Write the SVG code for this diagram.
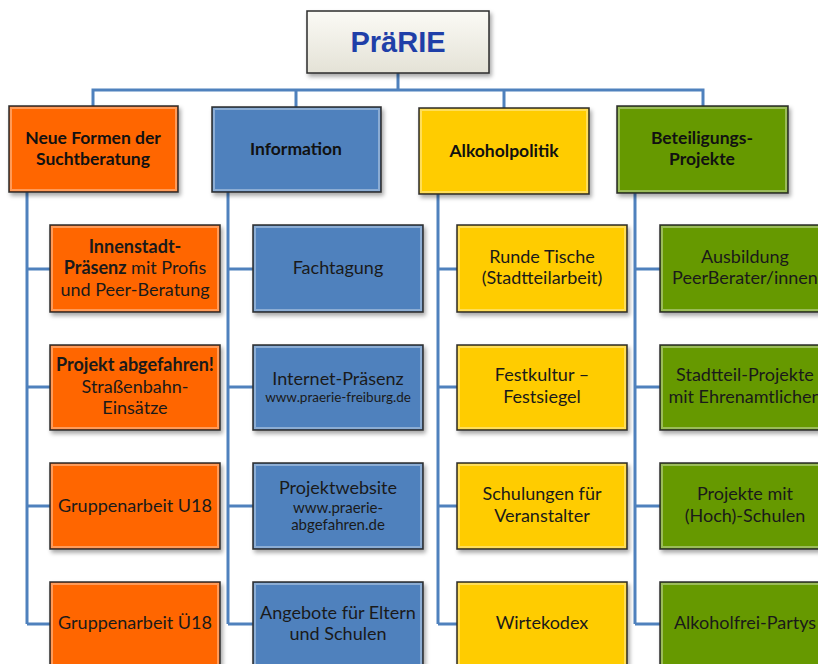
<svg xmlns="http://www.w3.org/2000/svg" width="818" height="664" viewBox="0 0 818 664">
<defs>
<filter id="sh" x="-10%" y="-10%" width="130%" height="140%">
<feDropShadow dx="2" dy="3" stdDeviation="2" flood-color="#000" flood-opacity="0.35"/>
</filter>
<linearGradient id="tg" x1="0" y1="0" x2="0" y2="1">
<stop offset="0" stop-color="#fbfaf5"/>
<stop offset="1" stop-color="#e4e2d6"/>
</linearGradient>
<style>
.box{stroke:#2b2b2b;stroke-width:1.5;filter:url(#sh)}
.o{fill:#ff6600}.b{fill:#4f81bd}.y{fill:#ffcc00}.g{fill:#669900}
.bev{fill:none;stroke:#ffffff;stroke-opacity:0.35;stroke-width:2}
.t{font-family:Lato,"Open Sans",sans-serif;font-size:18px;fill:#1a1a1a;text-anchor:middle}
.h{font-family:Lato,"Open Sans",sans-serif;font-size:17.5px;font-weight:bold;fill:#111;text-anchor:middle}
.s{font-family:Lato,"Open Sans",sans-serif;font-size:13.5px;fill:#1a1a1a;text-anchor:middle}
.s2{font-family:Lato,"Open Sans",sans-serif;font-size:15px;fill:#1a1a1a;text-anchor:middle}
.bold{font-weight:bold}
.c{fill:none;stroke:#4f81bd;stroke-width:3}
</style>
</defs>
<rect width="818" height="664" fill="#ffffff"/>

<g id="connectors">
<path class="c" d="M398 73V90M93 106V90H703V106M296 90V107M504 90V108"/>
<path class="c" d="M27 192V624M27 269H50M27 387H50M27 506H50M27 624H50"/>
<path class="c" d="M228 192V624M228 269H253M228 387H253M228 506H253M228 624H253"/>
<path class="c" d="M438 194V624M438 269H457M438 387H457M438 506H457M438 624H457"/>
<path class="c" d="M635 193V624M635 269H660M635 387H660M635 506H660M635 624H660"/>
</g>

<g id="praerie">
<rect class="box" x="307" y="11" width="182" height="62" fill="url(#tg)"/>
<text x="398" y="52" font-family="Liberation Sans,Arial,sans-serif" font-size="29" font-weight="bold" fill="#1f3fa8" text-anchor="middle">PräRIE</text>
</g>

<g id="neue-formen">
<rect class="box o" x="9" y="106" width="169" height="86"/>
<rect class="bev" x="11" y="108" width="165" height="82"/>
<text class="h" x="93" y="144">Neue Formen der</text>
<text class="h" x="93" y="165">Suchtberatung</text>
</g>
<g id="information">
<rect class="box b" x="212" y="107" width="169" height="85"/>
<rect class="bev" x="214" y="109" width="165" height="81"/>
<text class="h" x="296" y="155">Information</text>
</g>
<g id="alkoholpolitik">
<rect class="box y" x="419" y="108" width="170" height="86"/>
<rect class="bev" x="421" y="110" width="166" height="82"/>
<text class="h" x="504" y="157">Alkoholpolitik</text>
</g>
<g id="beteiligung">
<rect class="box g" x="617" y="106" width="171" height="87"/>
<rect class="bev" x="619" y="108" width="167" height="83"/>
<text class="h" x="702" y="144">Beteiligungs-</text>
<text class="h" x="702" y="165">Projekte</text>
</g>

<g id="innenstadt">
<rect class="box o" x="50" y="225" width="170" height="87"/>
<rect class="bev" x="52" y="227" width="166" height="83"/>
<text class="t bold" x="135" y="253">Innenstadt-</text>
<text class="t" x="135" y="274"><tspan class="bold">Präsenz</tspan> mit Profis</text>
<text class="t" x="135" y="296">und Peer-Beratung</text>
</g>
<g id="abgefahren">
<rect class="box o" x="50" y="345" width="170" height="85"/>
<rect class="bev" x="52" y="347" width="166" height="81"/>
<text class="t bold" x="135" y="371">Projekt abgefahren!</text>
<text class="t" x="135" y="393">Straßenbahn-</text>
<text class="t" x="135" y="414">Einsätze</text>
</g>
<g id="u18">
<rect class="box o" x="50" y="463" width="170" height="86"/>
<rect class="bev" x="52" y="465" width="166" height="82"/>
<text class="t" x="135" y="512">Gruppenarbeit U18</text>
</g>
<g id="ue18">
<rect class="box o" x="50" y="582" width="170" height="90"/>
<rect class="bev" x="52" y="584" width="166" height="86"/>
<text class="t" x="135" y="629">Gruppenarbeit Ü18</text>
</g>

<g id="fachtagung">
<rect class="box b" x="253" y="225" width="170" height="87"/>
<rect class="bev" x="255" y="227" width="166" height="83"/>
<text class="t" x="338" y="274">Fachtagung</text>
</g>
<g id="internet">
<rect class="box b" x="253" y="345" width="170" height="85"/>
<rect class="bev" x="255" y="347" width="166" height="81"/>
<text class="t" x="338" y="385">Internet-Präsenz</text>
<text class="s" x="338" y="402">www.praerie-freiburg.de</text>
</g>
<g id="projektwebsite">
<rect class="box b" x="253" y="463" width="170" height="86"/>
<rect class="bev" x="255" y="465" width="166" height="82"/>
<text class="t" x="338" y="494">Projektwebsite</text>
<text class="s2" x="338" y="513">www.praerie-</text>
<text class="s2" x="338" y="530">abgefahren.de</text>
</g>
<g id="angebote">
<rect class="box b" x="253" y="582" width="170" height="90"/>
<rect class="bev" x="255" y="584" width="166" height="86"/>
<text class="t" x="338" y="619">Angebote für Eltern</text>
<text class="t" x="338" y="640">und Schulen</text>
</g>

<g id="runde-tische">
<rect class="box y" x="457" y="225" width="170" height="87"/>
<rect class="bev" x="459" y="227" width="166" height="83"/>
<text class="t" x="542" y="263">Runde Tische</text>
<text class="t" x="542" y="284">(Stadtteilarbeit)</text>
</g>
<g id="festkultur">
<rect class="box y" x="457" y="345" width="170" height="85"/>
<rect class="bev" x="459" y="347" width="166" height="81"/>
<text class="t" x="542" y="381">Festkultur –</text>
<text class="t" x="542" y="403">Festsiegel</text>
</g>
<g id="schulungen">
<rect class="box y" x="457" y="463" width="170" height="86"/>
<rect class="bev" x="459" y="465" width="166" height="82"/>
<text class="t" x="542" y="500">Schulungen für</text>
<text class="t" x="542" y="522">Veranstalter</text>
</g>
<g id="wirtekodex">
<rect class="box y" x="457" y="582" width="170" height="90"/>
<rect class="bev" x="459" y="584" width="166" height="86"/>
<text class="t" x="542" y="629">Wirtekodex</text>
</g>

<g id="ausbildung">
<rect class="box g" x="660" y="225" width="170" height="87"/>
<rect class="bev" x="662" y="227" width="166" height="83"/>
<text class="t" x="745" y="263">Ausbildung</text>
<text class="t" x="745" y="284">PeerBerater/innen</text>
</g>
<g id="stadtteil">
<rect class="box g" x="660" y="345" width="170" height="85"/>
<rect class="bev" x="662" y="347" width="166" height="81"/>
<text class="t" x="745" y="381">Stadtteil-Projekte</text>
<text class="t" x="745" y="403">mit Ehrenamtlichen</text>
</g>
<g id="hochschulen">
<rect class="box g" x="660" y="463" width="170" height="86"/>
<rect class="bev" x="662" y="465" width="166" height="82"/>
<text class="t" x="745" y="500">Projekte mit</text>
<text class="t" x="745" y="522">(Hoch)-Schulen</text>
</g>
<g id="partys">
<rect class="box g" x="660" y="582" width="170" height="90"/>
<rect class="bev" x="662" y="584" width="166" height="86"/>
<text class="t" x="745" y="629">Alkoholfrei-Partys</text>
</g>
</svg>
